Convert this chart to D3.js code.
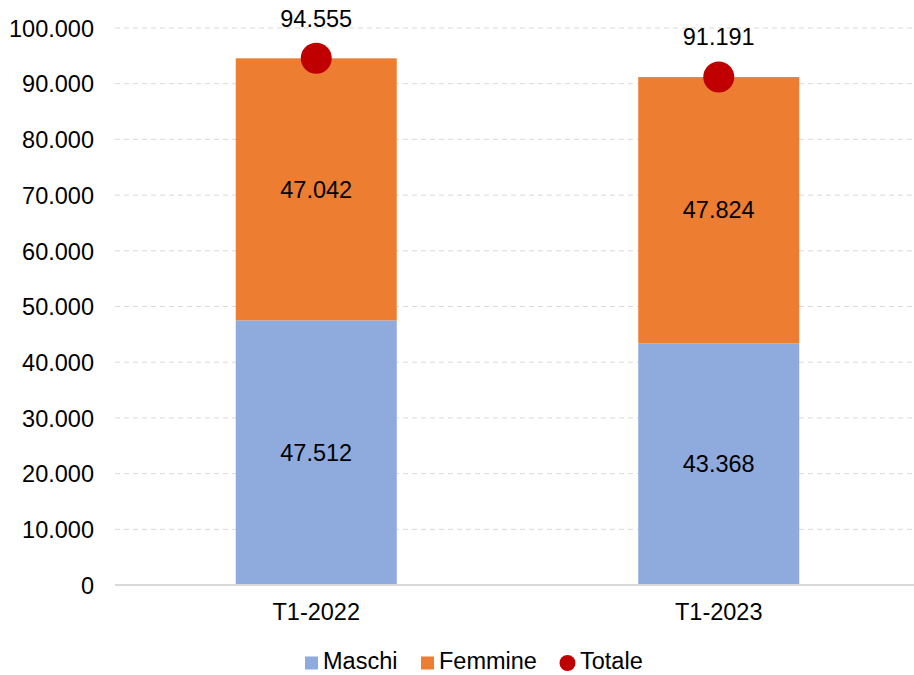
<!DOCTYPE html>
<html>
<head>
<meta charset="utf-8">
<script src="https://cdn.jsdelivr.net/npm/d3@7"></script>
<style>
  body { margin: 0; background: #fff; }
  text { font-family: "Liberation Sans", Arial, sans-serif; fill: #000; }
</style>
</head>
<body>
<div class="chart"></div>
<script>
var categories = ["T1-2022", "T1-2023"];
var maschi = [47512, 43368];
var femmine = [47042, 47824];
var totale = [94555, 91191];
var yTicks = [0, 10000, 20000, 30000, 40000, 50000, 60000, 70000, 80000, 90000, 100000];
var seriesNames = ["Maschi", "Femmine", "Totale"];

var width = 914,
    height = 675,
    margin = {top: 28, right: -6, bottom: 90, left: 115};

var colors = {Maschi: "#8FAADC", Femmine: "#ED7D31", Totale: "#C00000"};
var fmt = function (d) { return d3.format(",")(d).replace(/,/g, "."); };

var data = categories.map(function (c, i) {
    return {cat: c, Maschi: maschi[i], Femmine: femmine[i], Totale: totale[i]};
});

var svg = d3.select(".chart").append("svg")
    .attr("width", width)
    .attr("height", height);

var xScale = d3.scaleBand()
    .domain(categories)
    .range([margin.left, width - margin.right])
    .paddingInner(0.6)
    .paddingOuter(0.3);

var yScale = d3.scaleLinear()
    .domain([0, 100000])
    .range([height - margin.bottom, margin.top]);

// gridlines
svg.append("g").selectAll("line")
    .data(yTicks.slice(1))
    .enter().append("line")
    .attr("x1", margin.left)
    .attr("x2", width - margin.right)
    .attr("y1", function (d) { return yScale(d); })
    .attr("y2", function (d) { return yScale(d); })
    .attr("stroke", "#d9d9d9")
    .attr("stroke-width", 1)
    .attr("stroke-dasharray", "5,4");

// y axis
var yAxis = d3.axisLeft(yScale)
    .tickValues(yTicks)
    .tickFormat(fmt)
    .tickSize(0)
    .tickPadding(21);

svg.append("g")
    .attr("transform", "translate(" + margin.left + ",0)")
    .call(yAxis)
    .call(function (g) { g.select(".domain").remove(); })
    .selectAll("text")
    .style("font-size", "23.5px")
    .attr("dy", "0.35em");

// stacked bars
var stack = d3.stack().keys(["Maschi", "Femmine"]);
var layers = stack(data);

svg.append("g").selectAll("g")
    .data(layers)
    .enter().append("g")
    .attr("fill", function (d) { return colors[d.key]; })
    .selectAll("rect")
    .data(function (d) { return d; })
    .enter().append("rect")
    .attr("x", function (d) { return xScale(d.data.cat); })
    .attr("width", xScale.bandwidth())
    .attr("y", function (d) { return yScale(d[1]); })
    .attr("height", function (d) { return yScale(d[0]) - yScale(d[1]); });

// segment labels
layers.forEach(function (layer) {
    svg.append("g").selectAll("text")
        .data(layer)
        .enter().append("text")
        .attr("x", function (d) { return xScale(d.data.cat) + xScale.bandwidth() / 2; })
        .attr("y", function (d) { return yScale((d[0] + d[1]) / 2); })
        .attr("dy", "0.35em")
        .attr("text-anchor", "middle")
        .style("font-size", "23.5px")
        .text(function (d) { return fmt(d[1] - d[0]); });
});

// x axis line
svg.append("line")
    .attr("x1", margin.left)
    .attr("x2", width - margin.right)
    .attr("y1", yScale(0))
    .attr("y2", yScale(0))
    .attr("stroke", "#d9d9d9")
    .attr("stroke-width", 2);

var xAxis = d3.axisBottom(xScale).tickSize(0).tickPadding(18);
svg.append("g")
    .attr("transform", "translate(0," + yScale(0) + ")")
    .call(xAxis)
    .call(function (g) { g.select(".domain").remove(); })
    .selectAll("text")
    .style("font-size", "23.5px")
    .attr("dy", "0.71em");

// totale points
svg.append("g").selectAll("circle")
    .data(data)
    .enter().append("circle")
    .attr("cx", function (d) { return xScale(d.cat) + xScale.bandwidth() / 2; })
    .attr("cy", function (d) { return yScale(d.Totale); })
    .attr("r", 15.5)
    .attr("fill", colors.Totale);

svg.append("g").selectAll("text")
    .data(data)
    .enter().append("text")
    .attr("x", function (d) { return xScale(d.cat) + xScale.bandwidth() / 2; })
    .attr("y", function (d) { return yScale(d.Totale) - 40; })
    .attr("dy", "0.35em")
    .attr("text-anchor", "middle")
    .style("font-size", "23.5px")
    .text(function (d) { return fmt(d.Totale); });

// legend
var legendX = [305, 421, 560];
var legend = svg.append("g").selectAll("g")
    .data(seriesNames)
    .enter().append("g")
    .attr("transform", function (d, i) { return "translate(" + legendX[i] + ",662)"; });

legend.each(function (d) {
    var g = d3.select(this);
    if (d === "Totale") {
        g.append("circle").attr("cx", 7.5).attr("cy", 1).attr("r", 8).attr("fill", colors[d]);
        g.append("text").attr("x", 20).attr("dy", "0.3em").style("font-size", "23.5px").text(d);
    } else {
        g.append("rect").attr("x", 0).attr("y", -5.5).attr("width", 13).attr("height", 13).attr("fill", colors[d]);
        g.append("text").attr("x", 18).attr("dy", "0.3em").style("font-size", "23.5px").text(d);
    }
});
</script>
</body>
</html>
